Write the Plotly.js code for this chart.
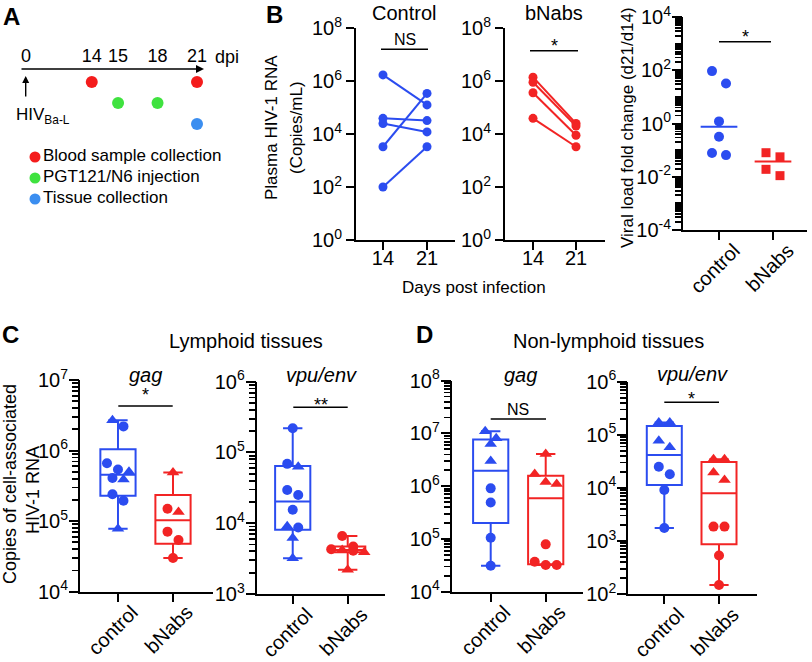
<!DOCTYPE html>
<html><head><meta charset="utf-8">
<script src="https://cdn.plot.ly/plotly-3.0.1.min.js"></script>
<style>html,body{margin:0;padding:0;background:#fff}#chart{width:812px;height:662px}</style>
</head><body><div id="chart"></div>
<script>
// ---------- Panel A: schedule ----------
const timelineSlots = ['0','s1','s2','s3','s4','14','s5','15','s6','s7','18','s8','s9','21'];
const timelineDays = ['0','14','15','18','21'];
const eventNames = ['Blood sample collection','PGT121/N6 injection','Tissue collection'];
const bloodDays = ['14','21'];
const injectionDays = ['15','18'];
const tissueDays = ['21'];

// ---------- Panel B ----------
const dayTicks = [14, 21];
const controlDay14 = [1.7e6, 3.9e4, 2.5e4, 3.3e3, 100];
const controlDay21 = [1.25e5, 3.2e4, 1.2e4, 3.4e5, 3.3e3];
const bnabsDay14 = [1.4e6, 9e5, 3.6e5, 3.9e4];
const bnabsDay21 = [2.5e4, 2e4, 9e3, 3.3e3];
const groupLabels = ['control', 'bNabs'];
const foldControl = [93, 32, 1.2, 0.32, 0.065, 0.078];
const foldBnabs = [0.056, 0.08, 0.011, 0.019];

// ---------- Panel C: lymphoid tissues ----------
const lymGagCtrlCircle = [2.2e6, 6.6e5, 5.4e5, 4.1e5, 2.4e5, 1.95e5];
const lymGagCtrlTriangle = [2.7e6, 5.0e5, 3.9e5, 7.8e4];
const lymGagBnCircle = [1.5e5, 7.1e4, 5.4e4, 3.0e4];
const lymGagBnTriangle = [4.9e5, 1.35e5];
const lymVpuCtrlCircle = [2.2e5, 6.9e4, 2.95e4, 2.5e4, 1.55e4, 8.7e3];
const lymVpuCtrlTriangle = [6.3e4, 9.1e3, 6.2e3, 3.2e3];
const lymVpuBnCircle = [6.6e3, 4.7e3, 4.3e3, 4.1e3];
const lymVpuBnTriangle = [4.2e3, 3.9e3, 2.2e3];

// ---------- Panel D: non-lymphoid tissues ----------
const nonGagCtrlCircle = [9.1e5, 4.9e5, 1.05e5, 3.1e4];
const nonGagCtrlTriangle = [1.1e7, 8.1e6, 6.3e6, 3.0e6];
const nonGagBnCircle = [7.9e4, 3.7e4, 3.2e4, 3.2e4];
const nonGagBnTriangle = [4.1e6, 1.7e6, 1.1e6, 1.2e6];
const nonVpuCtrlCircle = [2.5e4, 1.8e4, 9.1e3, 1.75e3];
const nonVpuCtrlTriangle = [1.7e5, 1.7e5, 7.7e4, 5.8e4];
const nonVpuBnCircle = [1.86e3, 1.86e3, 530, 148];
const nonVpuBnTriangle = [3.45e4, 3.45e4, 1.94e4, 1.4e4];

// ---------- helpers ----------
const W = 812, H = 662;
const X = px => px / W;
const Y = py => 1 - py / H;
const dX = (a, b) => [a / W, b / W];
const dY = (top, bottom) => [1 - bottom / H, 1 - top / H];
const BLUE = '#2b4cf0', RED = '#f22424';
const EVENT_COLORS = ['#f41c1c', '#3fe23f', '#3b8ef0'];
const FONT = 'Liberation Sans, Arial, Helvetica, sans-serif';

function quant(s, p) {
  const n = s.length, pos = (n + 1) * p;
  if (pos <= 1) return s[0];
  if (pos >= n) return s[n - 1];
  const lo = Math.floor(pos), f = pos - lo;
  return s[lo - 1] + f * (s[lo] - s[lo - 1]);
}
function median(a) { const s = a.slice().sort((x, y) => x - y); return quant(s, 0.5); }
function swarm(vals, center, ppd, ppu, d) {
  const idx = vals.map((v, i) => i).sort((a, b) => vals[b] - vals[a]);
  const xs = new Array(vals.length);
  let i = 0;
  while (i < idx.length) {
    const y0 = Math.log10(vals[idx[i]]) * ppd;
    const row = [idx[i]]; let j = i + 1;
    while (j < idx.length && Math.abs(Math.log10(vals[idx[j]]) * ppd - y0) < d) { row.push(idx[j]); j++; }
    row.forEach((k, r) => { xs[k] = center + (r - (row.length - 1) / 2) * d / ppu; });
    i = j;
  }
  return xs;
}
function logTicks(lo, hi, step, withMinor) {
  const vals = [], text = [];
  for (let k = lo; k <= hi; k++) {
    const labelled = (k - lo) % step === 0;
    if (labelled || withMinor) { vals.push(Math.pow(10, k)); text.push(labelled ? '10<sup>' + k + '</sup>' : ''); }
    if (withMinor && k < hi) for (let m = 2; m <= 9; m++) { vals.push(m * Math.pow(10, k)); text.push(''); }
  }
  return { vals, text };
}
const axCommon = {
  showline: true, linecolor: 'black', linewidth: 2, ticks: 'outside', tickwidth: 2, ticklen: 8,
  tickcolor: 'black', showgrid: false, zeroline: false, fixedrange: true,
  tickfont: { size: 20, color: 'black', family: FONT }
};
function yLog(dom, range, step, anchor, withMinor, len) {
  const t = logTicks(range[0], range[1], step, withMinor);
  return Object.assign({}, axCommon, { type: 'log', domain: dom, range: range, tickmode: 'array',
    tickvals: t.vals, ticktext: t.text, anchor: anchor, ticklen: len, tickwidth: withMinor ? 1.8 : 2 });
}
function yMajorOverlay(over, range, anchor, step) {
  const t = logTicks(range[0], range[1], step, false);
  return { type: 'log', overlaying: over, anchor: anchor, side: 'left', range: range, tickmode: 'array', tickvals: t.vals,
    showticklabels: false, ticks: 'outside', ticklen: 10, tickwidth: 2, tickcolor: 'black', showline: false,
    showgrid: false, zeroline: false, fixedrange: true };
}
function xGroup(dom, range, anchor, shift) {
  return Object.assign({}, axCommon, { domain: dom, range: range, tickmode: 'array', tickvals: [0, 1],
    ticktext: groupLabels, tickangle: -45, anchor: anchor, ticklabelshift: shift, ticklabelstandoff: -9 });
}

const traces = [];
[[bloodDays, 0], [injectionDays, 1], [tissueDays, 2]].forEach(e => {
  traces.push({ type: 'scatter', mode: 'markers', xaxis: 'x', yaxis: 'y', x: e[0], y: e[0].map(() => eventNames[e[1]]),
    marker: { color: EVENT_COLORS[e[1]], size: 12 }, cliponaxis: false, hoverinfo: 'skip' });
});
traces.push({ type: 'scatter', mode: 'markers+text', xaxis: 'x9', yaxis: 'y9', x: eventNames.map(() => 'key'),
  y: eventNames, text: eventNames, textposition: 'middle right', textfont: { size: 17, family: FONT, color: 'black' },
  marker: { color: EVENT_COLORS, size: 11 }, cliponaxis: false, hoverinfo: 'skip' });

function pairs(d14, d21, color, xa, ya) {
  d14.forEach((v, i) => traces.push({ type: 'scatter', mode: 'lines+markers', xaxis: xa, yaxis: ya,
    x: dayTicks, y: [v, d21[i]], line: { color: color, width: 2 }, marker: { color: color, size: 9 },
    cliponaxis: false, hoverinfo: 'skip' }));
}
pairs(controlDay14, controlDay21, BLUE, 'x2', 'y2');
pairs(bnabsDay14, bnabsDay21, RED, 'x3', 'y3');

const fcPPD = 213 / 8, fcPPU = 124 / (1.63 + 0.667);
[[foldControl, BLUE, 'circle', 10], [foldBnabs, RED, 'square', 9]].forEach((g, gi) => {
  const xs = swarm(g[0], gi, fcPPD, fcPPU, 14);
  const m = median(g[0]);
  traces.push({ type: 'scatter', mode: 'lines', xaxis: 'x4', yaxis: 'y4', x: [gi - 0.34, gi + 0.34], y: [m, m],
    line: { color: g[1], width: 2 }, hoverinfo: 'skip' });
  traces.push({ type: 'scatter', mode: 'markers', xaxis: 'x4', yaxis: 'y10', x: xs, y: g[0],
    marker: { color: g[1], size: g[3], symbol: g[2] }, cliponaxis: false, hoverinfo: 'skip' });
});

const boxPanels = [
  { xa: 'x5', ya: 'y5', yo: 'y11', xd: [80, 213], xr: [-0.69, 1.727], yd: [380, 591.7], yr: [4, 7],
    groups: [[lymGagCtrlCircle, lymGagCtrlTriangle], [lymGagBnCircle, lymGagBnTriangle]] },
  { xa: 'x6', ya: 'y6', yo: 'y12', xd: [256.7, 385], xr: [-0.655, 1.678], yd: [381.7, 594], yr: [3, 6],
    groups: [[lymVpuCtrlCircle, lymVpuCtrlTriangle], [lymVpuBnCircle, lymVpuBnTriangle]] },
  { xa: 'x7', ya: 'y7', yo: 'y13', xd: [451.7, 583], xr: [-0.709, 1.678], yd: [380.7, 591.7], yr: [4, 8],
    groups: [[nonGagCtrlCircle, nonGagCtrlTriangle], [nonGagBnCircle, nonGagBnTriangle]] },
  { xa: 'x8', ya: 'y8', yo: 'y14', xd: [628.3, 756.7], xr: [-0.658, 1.689], yd: [381.7, 594], yr: [2, 6],
    groups: [[nonVpuCtrlCircle, nonVpuCtrlTriangle], [nonVpuBnCircle, nonVpuBnTriangle]] }
];
boxPanels.forEach(p => {
  const ppd = (p.yd[1] - p.yd[0]) / (p.yr[1] - p.yr[0]);
  const ppu = (p.xd[1] - p.xd[0]) / (p.xr[1] - p.xr[0]);
  p.groups.forEach((g, gi) => {
    const color = gi === 0 ? BLUE : RED;
    const all = g[0].concat(g[1]);
    const s = all.slice().sort((a, b) => a - b);
    traces.push({ type: 'box', xaxis: p.xa, yaxis: p.ya, x: [gi], q1: [quant(s, 0.25)], median: [quant(s, 0.5)],
      q3: [quant(s, 0.75)], lowerfence: [s[0]], upperfence: [s[s.length - 1]], width: 0.64, whiskerwidth: 0.55,
      line: { color: color, width: 2 }, fillcolor: 'rgba(0,0,0,0)', boxpoints: false, hoverinfo: 'skip' });
    const xs = swarm(all, gi, ppd, ppu, 11);
    const nC = g[0].length;
    traces.push({ type: 'scatter', mode: 'markers', xaxis: p.xa, yaxis: p.yo, x: xs.slice(0, nC), y: g[0],
      marker: { color: color, size: 10, symbol: 'circle' }, cliponaxis: false, hoverinfo: 'skip' });
    traces.push({ type: 'scatter', mode: 'markers', xaxis: p.xa, yaxis: p.yo, x: xs.slice(nC), y: g[1],
      marker: { color: color, size: 11, symbol: 'triangle-up' }, cliponaxis: false, hoverinfo: 'skip' });
  });
});

const layout = {
  width: W, height: H, margin: { l: 0, r: 0, t: 0, b: 0 }, paper_bgcolor: 'white', plot_bgcolor: 'rgba(0,0,0,0)',
  font: { family: FONT, color: 'black', size: 17 }, hovermode: false, showlegend: false,
  xaxis: { type: 'category', categoryorder: 'array', categoryarray: timelineSlots, range: [-1.216, 14.368],
    domain: dX(10, 215), anchor: 'free', position: Y(66), side: 'top', tickmode: 'array', tickvals: timelineDays,
    ticktext: timelineDays, ticks: '', showline: false, showgrid: false, zeroline: false, fixedrange: true,
    tickfont: { size: 18, family: FONT } },
  yaxis: { type: 'category', categoryorder: 'array', categoryarray: eventNames, range: [2.5, -0.5],
    domain: dY(71.5, 134.5), visible: false, fixedrange: true },
  xaxis9: { type: 'category', categoryarray: ['key'], range: [-0.1, 1.5], domain: dX(20, 260), anchor: 'y9',
    visible: false, fixedrange: true },
  yaxis9: { type: 'category', categoryorder: 'array', categoryarray: eventNames, range: [2.5, -0.5],
    domain: dY(146.5, 209.5), anchor: 'x9', visible: false, fixedrange: true },
  xaxis2: Object.assign({}, axCommon, { domain: dX(356, 455), range: [9.71, 25.45], tickmode: 'array', tickvals: dayTicks, anchor: 'y2', ticklabelstandoff: -9 }),
  yaxis2: yLog(dY(28, 240), [0, 8], 2, 'x2', false, 8),
  xaxis3: Object.assign({}, axCommon, { domain: dX(505, 605), range: [9.44, 25.72], tickmode: 'array', tickvals: dayTicks, anchor: 'y3', ticklabelstandoff: -9 }),
  yaxis3: yLog(dY(28, 240), [0, 8], 2, 'x3', false, 8),
  xaxis4: xGroup(dX(683, 807), [-0.667, 1.63], 'y4', 15),
  yaxis4: yLog(dY(17, 230), [-4, 4], 2, 'x4', true, 6),
  yaxis10: yMajorOverlay('y4', [-4, 4], 'x4', 2),
  shapes: [], annotations: []
};
// C/D: main axes carry all ticks (minor ones short, unlabelled); overlays carry the long decade ticks
boxPanels.forEach((p, i) => {
  const n = i + 5;
  layout['xaxis' + n] = xGroup(dX(p.xd[0], p.xd[1]), p.xr, 'y' + n, 14);
  layout['yaxis' + n] = yLog(dY(p.yd[0], p.yd[1]), p.yr, 1, 'x' + n, true, 6);
  layout['yaxis' + (n + 6)] = yMajorOverlay('y' + n, p.yr, 'x' + n, 1);
});

function ann(text, x, y, size, extra) {
  layout.annotations.push(Object.assign({ text: text, xref: 'paper', yref: 'paper', x: X(x), y: Y(y),
    showarrow: false, font: { size: size, family: FONT, color: 'black' }, xanchor: 'center', yanchor: 'middle' }, extra || {}));
}
function sig(label, x0, x1, yLine, yText, size) {
  layout.shapes.push({ type: 'line', xref: 'paper', yref: 'paper', x0: X(x0), x1: X(x1), y0: Y(yLine), y1: Y(yLine),
    line: { color: 'black', width: 1.6 } });
  ann(label, (x0 + x1) / 2, yText, size);
}
ann('<b>A</b>', 11, 16, 24); ann('<b>B</b>', 274, 14, 24); ann('<b>C</b>', 10, 334, 24); ann('<b>D</b>', 424, 334, 24);
ann('dpi', 227, 57, 18);
ann('HIV<sub>Ba-L</sub>', 14, 116, 17, { xanchor: 'left' });
layout.annotations.push({ xref: 'paper', yref: 'paper', x: X(204), y: Y(69), ax: -184, ay: 0, text: '', showarrow: true,
  arrowhead: 2, arrowsize: 1, arrowwidth: 1.6, arrowcolor: 'black' });
layout.annotations.push({ xref: 'paper', yref: 'paper', x: X(25.7), y: Y(76), ax: 0, ay: 22, text: '', showarrow: true,
  arrowhead: 2, arrowsize: 1, arrowwidth: 1.4, arrowcolor: 'black' });
ann('Control', 404, 13, 20); ann('bNabs', 554, 13, 20);
ann('Plasma HIV-1 RNA', 272, 128, 17, { textangle: -90 });
ann('(Copies/mL)', 297, 128, 17, { textangle: -90 });
ann('Days post infection', 474, 288, 17);
ann('Viral load fold change (d21/d14)', 628, 128, 17, { textangle: -90 });
sig('NS', 381, 428, 49.3, 39, 16);
sig('*', 530, 578, 50.7, 46, 18);
sig('*', 719, 771, 41.7, 37, 18);
ann('Lymphoid tissues', 246, 341, 20); ann('Non-lymphoid tissues', 608, 341, 20);
ann('<i>gag</i>', 145, 375, 20); ann('<i>vpu/env</i>', 321, 375, 20);
ann('<i>gag</i>', 520, 375, 20); ann('<i>vpu/env</i>', 692, 374, 20);
ann('Copies of cell-associated', 10, 484, 18, { textangle: -90 });
ann('HIV-1 RNA', 33, 490, 18, { textangle: -90 });
sig('*', 118.3, 172.7, 406, 395, 18);
sig('**', 293.3, 347.7, 407.3, 405, 18);
sig('NS', 490.7, 546, 419, 409, 16);
sig('*', 664.3, 719, 402.3, 399, 18);

traces.forEach(t => { t.showlegend = false; });
Plotly.newPlot('chart', traces, layout, { staticPlot: true, displayModeBar: false });
</script></body></html>
